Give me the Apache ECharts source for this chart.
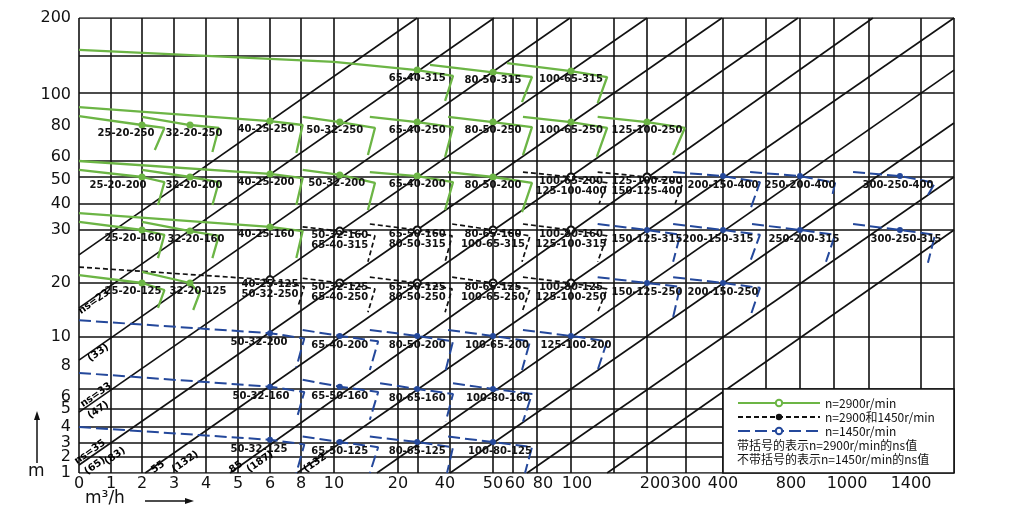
<!DOCTYPE html>
<html><head><meta charset="utf-8">
<script src="https://cdn.jsdelivr.net/npm/echarts@6/dist/echarts.min.js"></script>
<style>html,body{margin:0;padding:0;background:#fff}#c{width:1014px;height:521px}</style>
</head><body><div id="c"></div>
<script>
// ---- hand-drawn, non-uniform axis scales (value -> axis unit) ----
const xScaleQ  = [0,1,2,3,4,5,6,8,10,20,25,40,50,60,80,100,150,200,300,400,600,800,1000,1200,1400,1600];
const xScaleAt = [0,32,63,95,127,159,191,222,255,319,339,371,414,434,458,492,535,568,607,644,687,721,755,790,842,875];
const yScaleH  = [1,2,3,4,5,6,8,10,20,30,40,50,60,80,100,150,200];
const yScaleAt = [0,16,30,46,64,84,107,136,190,243,269,296,312,347,380,417,455];

const xTickLabels = [0,1,2,3,4,5,6,8,10,20,40,50,60,80,100,200,300,400,800,1000,1400];
const yTickLabels = [1,2,3,4,5,6,8,10,20,30,40,50,60,80,100,200];
const xGridValues = xScaleQ;
const yGridValues = [1,2,3,4,5,6,10,20,30,40,50,60,100,150,200];

// diagonal ns lines: [Q1,H1,Q2,H2]
const nsLines = [
  [0,25.3, 24.8,200],[0,15.4, 50.5,200],[0,8.4, 99.4,200],[0,4.83, 200,200],
  [0,1.5, 397,200],[2.1,1, 788,200],[4.75,1, 1215,200],[7.74,1, 1600,200],
  [16.7,1, 1600,131],[40,1, 1600,81.8],[71.7,1, 1600,50],[142,1, 1600,30]
];
const nsLabels = [
  ['ns=23',0.47,16.5],['(33)',0.6,8.9],['ns=33',0.53,5.7],['(47)',0.6,4.94],
  ['ns=35',0.34,2.36],['(65)',0.5,1.44],['(83)',1.13,2.07],['55',2.5,1.37],
  ['(132)',3.35,1.7],['85',4.94,1.37],['(187)',5.69,1.7],['(132',8.85,1.62]
];

// pump rows: [name, lead points, duty point, trailing points]  (Q m3/h, H m)
const green315 = [
  ['65-40-315',[[0,158],[10,142]],[24.8,131],[[40.7,123],[37.7,95.2]]],
  ['80-50-315',[[30.6,138]],[50,128],[[75.8,121.6],[67.5,94.5]]],
  ['100-65-315',[[57,140.5]],[100,129.7],[[142,121.6],[131,93.9]]]
];
const green250 = [
  ['25-20-250',[[0,86]],[2,80.6],[[2.7,78.9],[2.4,66.3]]],
  ['32-20-250',[[2,85.5]],[3.5,80.6],[[4.4,78.9],[4.2,65.1]]],
  ['40-25-250',[[0,91.5]],[6,83],[[8.1,80.6],[7.7,64.6]]],
  ['50-32-250',[[8.1,85.5]],[10.9,82.4],[[16.4,78.9],[15.3,63.4]]],
  ['65-40-250',[[15.6,85.5]],[24.8,82.4],[[40.7,79.4],[37.7,62.3]]],
  ['80-50-250',[[39.1,85.5]],[50,82.4],[[75.8,79.4],[68.3,63.4]]],
  ['100-65-250',[[68.3,85.5]],[100,82.4],[[142,78.9],[130,62.3]]],
  ['125-100-250',[[131,85.5]],[200,82.4],[[297,78.9],[267,63.4]]]
];
const green200 = [
  ['25-20-200',[[0,54.4]],[2,50],[[2.7,48.1],[2.5,39.6]]],
  ['32-20-200',[[2,54.4]],[3.5,50],[[4.4,48.1],[4.2,39.6]]],
  ['40-25-200',[[0,60]],[6,51.9],[[8.1,49.6],[7.7,39.6]]],
  ['50-32-200',[[8.1,54.4]],[10.9,51.3],[[16.4,47.8],[15.3,37.7]]],
  ['65-40-200',[[15.6,53.1]],[24.8,50.6],[[40.7,48.1],[37.7,37.7]]],
  ['80-50-200',[[39.1,53.1]],[50,50],[[75.8,47.8],[67.5,36.9]]]
];
const green160 = [
  ['25-20-160',[[0,33.1]],[2,30],[[2.7,29.1],[2.5,24.7]]],
  ['32-20-160',[[2,33.1]],[3.5,29.8],[[4.4,28.9],[4.2,24.7]]],
  ['40-25-160',[[0,36.5]],[6,31.2],[[8.1,29.8],[7.7,24.7]]]
];
const green125 = [
  ['25-20-125',[[0,21.5]],[2,20],[[2.7,18.7],[2.5,15.4]]],
  ['32-20-125',[[2,22.1]],[3.5,20],[[3.8,18.1],[3.6,15]]]
];
const dual200 = [
  ['100-65-200\n125-100-400',[[68.3,53.1]],[100,50],[[142,47.8],[132.6,40]]],
  ['125-100-200\n150-125-400',[[131,53.1]],[200,50],[[292,47.8],[272,40]]]
];
const dual160 = [
  ['50-32-160\n65-40-315',[[8.1,31.2]],[10.9,29.8],[[16.4,28.9],[15.3,24]]],
  ['65-50-160\n80-50-315',[[15.6,32.3]],[24.8,30],[[40.5,28.9],[37.7,24]]],
  ['80-65-160\n100-65-315',[[40.5,32.3]],[50,30],[[74.2,28.9],[67.5,24]]],
  ['100-80-160\n125-100-315',[[68.3,32.3]],[100,30],[[142,28.9],[131,24]]]
];
const dual125 = [
  ['40-25-125\n50-32-250',[[0,23]],[6,20.6],[[8.2,19.3],[7.8,15.6]]],
  ['50-32-125\n65-40-250',[[8.1,20.9]],[10.9,20],[[16.4,18.9],[15.3,14.6]]],
  ['65-50-125\n80-50-250',[[15.6,21.1]],[24.8,20],[[40.5,18.9],[37.7,14.6]]],
  ['80-65-125\n100-65-250',[[40.5,21.1]],[50,20],[[74.2,18.9],[67.5,14.6]]],
  ['100-80-125\n125-100-250',[[68.3,21.1]],[100,20],[[142,18.9],[131,14.6]]]
];
const blue400 = [
  ['200-150-400',[[267,53.1]],[400,50.6],[[572,48.1],[526,37.7]]],
  ['250-200-400',[[526,53.1]],[800,50.6],[[1006,47.8],[988,42.6]]],
  ['300-250-400',[[1109,53.1]],[1319,50.6],[[1485,47.8],[1442,43.3]]]
];
const blue315 = [
  ['150-125-315',[[131,32.3]],[200,30],[[285,29.1],[267,24]]],
  ['200-150-315',[[267,32.3]],[400,30],[[572,29.1],[526,24]]],
  ['250-200-315',[[535,32.3]],[800,30],[[1006,29.1],[953,24]]],
  ['300-250-315',[[1109,32.3]],[1319,30],[[1485,29.1],[1442,23.8]]]
];
const blue250 = [
  ['150-125-250',[[131,21.1]],[200,20],[[285,19.3],[267,13.7]]],
  ['200-150-250',[[267,21.1]],[400,20],[[572,19.1],[526,13.7]]]
];
const blue200 = [
  ['50-32-200',[[0,13.1]],[6,10.7],[[8.2,9.9],[7.7,7.9]]],
  ['65-40-200',[[8.1,11.3]],[10.9,10.2],[[16.9,9.7],[15.6,7.65]]],
  ['80-50-200',[[15.6,11.3]],[24.8,10.2],[[40.7,9.7],[38,7.65]]],
  ['100-65-200',[[39.1,11.3]],[50,10.2],[[74.2,9.7],[67.5,7.65]]],
  ['125-100-200',[[68.3,11.3]],[100,10.2],[[142,9.7],[131,7.65]]]
];
const blue160 = [
  ['50-32-160',[[0,7.4]],[6,6.2],[[8.2,5.85],[7.7,4.4]]],
  ['65-50-160',[[8.1,6.8]],[10.9,6.2],[[16.9,5.85],[15.6,4.4]]],
  ['80-65-160',[[17.2,6.5]],[24.8,6],[[40.7,5.75],[38,4.3]]],
  ['100-80-160',[[40.7,6.5]],[50,6],[[75.8,5.75],[68.3,4.3]]]
];
const blue125 = [
  ['50-32-125',[[0,4]],[6,3.2],[[8.2,2.9],[7.7,1]]],
  ['65-50-125',[[8.1,3.4]],[10.9,3.06],[[16.9,2.7],[15.6,1]]],
  ['80-65-125',[[15.6,3.4]],[24.8,3.06],[[40.7,2.7],[38.6,1]]],
  ['100-80-125',[[39.1,3.4]],[50,3.06],[[75.8,2.7],[70,1]]]
];
const legendNames = ['n=2900r/min','n=2900和1450r/min','n=1450r/min'];
const noteLines = ['带括号的表示n=2900r/min的ns值','不带括号的表示n=1450r/min的ns值'];
const axisNames = ['m','m³/h'];

// ---- scale helpers ----
function interp(v, vs, ps){
  let i = 0;
  while (i < vs.length - 2 && v > vs[i+1]) i++;
  return ps[i] + (v - vs[i]) * (ps[i+1] - ps[i]) / (vs[i+1] - vs[i]);
}
const X = q => interp(q, xScaleQ, xScaleAt);
const Y = h => interp(h, yScaleH, yScaleAt);
const P = p => [X(p[0]), Y(p[1])];
const key = v => Math.round(v * 100) / 100;
const xLab = {}; xTickLabels.forEach(q => xLab[key(X(q))] = String(q));
const yLab = {}; yTickLabels.forEach(h => yLab[key(Y(h))] = String(h));

// ---- styles ----
const INK = '#111';
const GREEN = '#6cb545', BLUE = '#24489b';
const axisFont = {fontFamily:'DejaVu Sans', fontSize:16, color:INK};
const labelFont = {fontFamily:'DejaVu Sans', fontWeight:'bold', fontSize:10, color:INK};
// small horizontal / vertical nudges of hand-lettered tick labels (px)
const xNudge = {'40':-5,'60':2,'80':6,'100':6,'200':8,'800':-9,'1000':13,'1400':-10};
const yNudge = {'6':8,'60':-4,'50':3,'100':2};
// horizontal nudges of hand-lettered pump labels (px), per speed group
const labelNudge = {
  green: {'25-20-250':-16,'25-20-200':-24,'25-20-160':-9,'25-20-125':-9,
          '32-20-250':4,'32-20-200':4,'32-20-160':6,'32-20-125':8,
          '40-25-250':-4,'40-25-200':-4,'40-25-160':-4,'50-32-250':-5,'50-32-200':-3},
  dual: {},
  blue: {'50-32-200':-11,'50-32-160':-9,'50-32-125':-11,'100-65-200':4,'125-100-200':5,
         '100-80-160':5,'100-80-125':7,'200-150-315':-5,'250-200-315':4,'300-250-315':6,
         '300-250-400':-2}
};
const xRich = {}, yRich = {};
Object.entries(xNudge).forEach(([t,n]) => xRich['x'+t] = {...axisFont,
  padding: n > 0 ? [0,0,0,2*n] : [0,-2*n,0,0]});
Object.entries(yNudge).forEach(([t,n]) => yRich['y'+t] = {...axisFont,
  padding: n > 0 ? [2*n,0,0,0] : [0,0,-2*n,0]});
const fmtX = v => { const t = xLab[key(v)]; if (t == null) return ''; return xNudge[t] ? `{x${t}|${t}}` : t; };
const fmtY = v => { const t = yLab[key(v)]; if (t == null) return ''; return yNudge[t] ? `{y${t}|${t}}` : t; };

const styles = {
  green: {z:5, line:{color:GREEN, width:2.3, type:'solid'}, symbol:'circle', size:7,
          item:{color:GREEN}, dist:-1, lh:11, nudge:labelNudge.green},
  dual:  {z:4, line:{color:INK, width:1.7, type:[5,3]}, symbol:'circle', size:7,
          item:{color:'#fff', borderColor:INK, borderWidth:2}, dist:-5, lh:10, nudge:labelNudge.dual},
  blue:  {z:3, line:{color:BLUE, width:2, type:[12,5]}, symbol:'circle', size:6,
          item:{color:BLUE}, dist:1, lh:11, nudge:labelNudge.blue}
};
function pumpSeries(rows, st){
  return rows.map(([name, lead, dot, trail]) => ({
    type:'line', name, silent:true, z:st.z, animation:false,
    symbol:'none', showSymbol:true, showAllSymbol:true,
    lineStyle:st.line,
    data:[
      ...lead.map(P),
      {value:P(dot), symbol:st.symbol, symbolSize:st.size, itemStyle:st.item,
       label:{show:true, position:'bottom', distance:st.dist, formatter:name,
              offset:[st.nudge[name] || 0, 0], lineHeight:st.lh, ...labelFont}},
      ...trail.map(P)
    ]
  }));
}

const series = [];
// grid lines
series.push({
  type:'lines', coordinateSystem:'cartesian2d', silent:true, z:1, animation:false,
  lineStyle:{color:INK, width:1.6, opacity:1},
  data:[
    ...xGridValues.map(q => ({coords:[[X(q),Y(1)],[X(q),Y(200)]]})),
    ...yGridValues.map(h => ({coords:[[X(0),Y(h)],[X(1600),Y(h)]]}))
  ]
});
// diagonal ns lines
series.push({
  type:'lines', coordinateSystem:'cartesian2d', silent:true, z:2, animation:false,
  lineStyle:{color:INK, width:1.6, opacity:1},
  data: nsLines.map(l => ({coords:[P([l[0],l[1]]), P([l[2],l[3]])]}))
});
// ns labels (text along the diagonals)
series.push({
  type:'scatter', silent:true, z:6, animation:false, symbol:'circle', symbolSize:1,
  itemStyle:{color:'rgba(255,255,255,0)'},
  label:{show:true, position:'inside', rotate:35, formatter:p => p.data.name,
         fontFamily:'DejaVu Sans', fontWeight:'bold', fontSize:10, color:'#000',
         opacity:1, textBorderWidth:0},
  data: nsLabels.map(([t,q,h]) => ({name:t, value:P([q,h])}))
});
[blue400, blue315, blue250, blue200, blue160, blue125].forEach(r => series.push(...pumpSeries(r, styles.blue)));
[dual200, dual160, dual125].forEach(r => series.push(...pumpSeries(r, styles.dual)));
[green315, green250, green200, green160, green125].forEach(r => series.push(...pumpSeries(r, styles.green)));
// legend entries
series.push(
  {type:'line', name:legendNames[0], data:[], symbol:'emptyCircle', symbolSize:7,
   lineStyle:{color:GREEN, width:2, type:'solid'}, itemStyle:{color:GREEN, borderColor:GREEN}},
  {type:'line', name:legendNames[1], data:[], symbol:'circle', symbolSize:7,
   lineStyle:{color:INK, width:1.6, type:[5,3]}, itemStyle:{color:INK}},
  {type:'line', name:legendNames[2], data:[], symbol:'emptyCircle', symbolSize:7,
   lineStyle:{color:BLUE, width:2, type:[12,5]}, itemStyle:{color:BLUE, borderColor:BLUE}}
);

const chart = echarts.init(document.getElementById('c'), null, {renderer:'canvas'});
chart.setOption({
  animation:false,
  backgroundColor:'#fff',
  grid:{left:79, top:18, width:875, height:455, containLabel:false},
  xAxis:{type:'value', min:0, max:875, axisLine:{show:false}, axisTick:{show:false},
    splitLine:{show:false},
    axisLabel:{customValues:xTickLabels.map(X), formatter:fmtX, rich:xRich,
      ...axisFont, margin:3, hideOverlap:false}},
  yAxis:{type:'value', min:0, max:455, axisLine:{show:false}, axisTick:{show:false},
    splitLine:{show:false},
    axisLabel:{customValues:yTickLabels.map(Y), formatter:fmtY, rich:yRich,
      ...axisFont, margin:8, hideOverlap:false}},
  legend:{data:legendNames, orient:'vertical', left:732, top:392, z:20,
    itemWidth:82, itemHeight:8, itemGap:2, selectedMode:false,
    textStyle:{fontFamily:'Noto Sans CJK SC', fontSize:12, color:INK, lineHeight:12}},
  series
});

// legend box and decorations, placed through the grid's coordinate system
const tl = chart.convertToPixel({gridIndex:0}, P([400,6]));
const br = chart.convertToPixel({gridIndex:0}, P([1600,1]));
const o  = chart.convertToPixel({gridIndex:0}, P([0,1]));
chart.setOption({graphic:[
  {type:'rect', z:10, shape:{x:tl[0], y:tl[1], width:br[0]-tl[0], height:br[1]-tl[1]},
   style:{fill:'#fff', stroke:INK, lineWidth:1.6}},
  {type:'text', z:21, x:tl[0]+14, y:tl[1]+50, style:{text:noteLines[0], fill:INK,
   font:'12px "Noto Sans CJK SC"'}},
  {type:'text', z:21, x:tl[0]+14, y:tl[1]+64, style:{text:noteLines[1], fill:INK,
   font:'12px "Noto Sans CJK SC"'}},
  {type:'text', z:21, x:o[0]-51, y:o[1]-10, style:{text:axisNames[0], fill:INK,
   font:'17px "DejaVu Sans"'}},
  {type:'line', z:21, shape:{x1:o[0]-42, y1:o[1]-10, x2:o[0]-42, y2:o[1]-56},
   style:{stroke:INK, lineWidth:1.5}},
  {type:'polygon', z:21, shape:{points:[[o[0]-42,o[1]-62],[o[0]-45,o[1]-53],[o[0]-39,o[1]-53]]},
   style:{fill:INK}},
  {type:'text', z:21, x:o[0]+6, y:o[1]+17, style:{text:axisNames[1], fill:INK,
   font:'17px "DejaVu Sans"'}},
  {type:'line', z:21, shape:{x1:o[0]+66, y1:o[1]+28, x2:o[0]+108, y2:o[1]+28},
   style:{stroke:INK, lineWidth:1.5}},
  {type:'polygon', z:21, shape:{points:[[o[0]+115,o[1]+28],[o[0]+106,o[1]+25],[o[0]+106,o[1]+31]]},
   style:{fill:INK}}
]});
</script></body></html>
